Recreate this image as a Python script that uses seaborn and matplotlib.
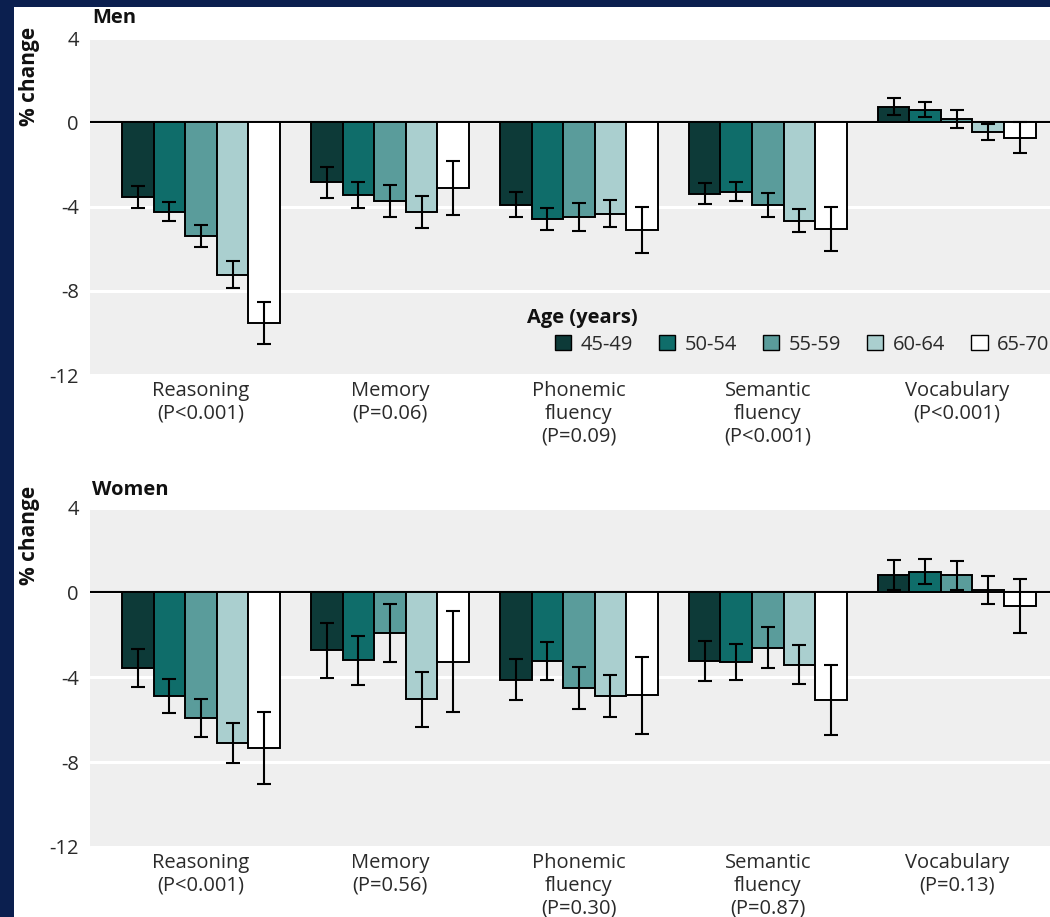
import matplotlib
matplotlib.use("Agg")
import matplotlib.pyplot as plt
from matplotlib.patches import Patch, Rectangle
import seaborn as sns
import pandas as pd

# ---- data -------------------------------------------------------------
domains = ["Reasoning", "Memory", "Phonemic fluency", "Semantic fluency", "Vocabulary"]
age_groups = ["45-49", "50-54", "55-59", "60-64", "65-70"]

men_labels = ["Reasoning\n(P<0.001)", "Memory\n(P=0.06)", "Phonemic\nfluency\n(P=0.09)",
              "Semantic\nfluency\n(P<0.001)", "Vocabulary\n(P<0.001)"]
women_labels = ["Reasoning\n(P<0.001)", "Memory\n(P=0.56)", "Phonemic\nfluency\n(P=0.30)",
                "Semantic\nfluency\n(P=0.87)", "Vocabulary\n(P=0.13)"]

# % change over 10 years, one list per age group (order follows `domains`)
men_45_49 = [-3.55, -2.85, -3.91, -3.39, 0.73]
men_50_54 = [-4.24, -3.44, -4.60, -3.29, 0.59]
men_55_59 = [-5.38, -3.74, -4.49, -3.93, 0.15]
men_60_64 = [-7.23, -4.26, -4.34, -4.67, -0.47]
men_65_70 = [-9.53, -3.14, -5.11, -5.06, -0.73]

men_ci_45_49 = [0.50, 0.74, 0.61, 0.50, 0.40]
men_ci_50_54 = [0.45, 0.62, 0.52, 0.47, 0.35]
men_ci_55_59 = [0.52, 0.78, 0.65, 0.59, 0.44]
men_ci_60_64 = [0.62, 0.76, 0.63, 0.55, 0.37]
men_ci_65_70 = [1.00, 1.28, 1.10, 1.03, 0.72]

women_45_49 = [-3.56, -2.72, -4.11, -3.24, 0.82]
women_50_54 = [-4.88, -3.21, -3.24, -3.27, 0.98]
women_55_59 = [-5.92, -1.92, -4.50, -2.61, 0.80]
women_60_64 = [-7.10, -5.03, -4.89, -3.40, 0.11]
women_65_70 = [-7.33, -3.26, -4.86, -5.05, -0.64]

women_ci_45_49 = [0.90, 1.30, 0.97, 0.93, 0.71]
women_ci_50_54 = [0.80, 1.17, 0.88, 0.86, 0.59]
women_ci_55_59 = [0.89, 1.35, 0.99, 0.96, 0.69]
women_ci_60_64 = [0.93, 1.30, 0.99, 0.90, 0.68]
women_ci_65_70 = [1.68, 2.37, 1.81, 1.65, 1.27]

y_ticks = [4, 0, -4, -8, -12]
y_tick_labels = ["4", "0", "-4", "-8", "-12"]

palette = ["#0d3a38", "#0f6d6a", "#5a9c9b", "#aacfcf", "#ffffff"]


def long_table(series, cis):
    rows = []
    for age, vals, errs in zip(age_groups, series, cis):
        for dom, v, e in zip(domains, vals, errs):
            rows.append({"domain": dom, "age": age, "change": v, "ci": e})
    return pd.DataFrame(rows)


men_df = long_table([men_45_49, men_50_54, men_55_59, men_60_64, men_65_70],
                    [men_ci_45_49, men_ci_50_54, men_ci_55_59, men_ci_60_64, men_ci_65_70])
women_df = long_table([women_45_49, women_50_54, women_55_59, women_60_64, women_65_70],
                      [women_ci_45_49, women_ci_50_54, women_ci_55_59, women_ci_60_64, women_ci_65_70])

# ---- styling ------------------------------------------------------------
sns.set_theme(style="darkgrid", rc={
    "axes.facecolor": "#efefef",
    "grid.color": "white",
    "grid.linewidth": 2.2,
    "figure.facecolor": "white",
})
plt.rcParams["font.family"] = ["Open Sans", "DejaVu Sans"]

W, H = 1050, 917
fig = plt.figure(figsize=(W / 100, H / 100), dpi=100)

# navy frame strips
navy = "#0b1f4f"
fig.add_artist(Rectangle((0, 0), 14 / W, 1, transform=fig.transFigure,
                         facecolor=navy, edgecolor="none", zorder=0))
fig.add_artist(Rectangle((0, 1 - 7 / H), 1, 7 / H, transform=fig.transFigure,
                         facecolor=navy, edgecolor="none", zorder=0))

ax_men = fig.add_axes([90 / W, 1 - 375 / H, 960 / W, 337 / H])
ax_women = fig.add_axes([90 / W, 1 - 847 / H, 960 / W, 339.5 / H])

FS = 14.5
TXT = "#2a2a2a"


def draw_panel(ax, df, labels, title, title_pad, ylabel_y):
    sns.barplot(data=df, x="domain", y="change", hue="age", order=domains,
                hue_order=age_groups, palette=palette, saturation=1, width=0.836,
                edgecolor="black", linewidth=1.4, errorbar=None, legend=False,
                ax=ax, zorder=3)
    # confidence intervals on each bar
    for container, age in zip(ax.containers, age_groups):
        sub = df[df["age"] == age].set_index("domain").loc[domains]
        xs = [p.get_x() + p.get_width() / 2 for p in container.patches]
        ax.errorbar(xs, sub["change"].values, yerr=sub["ci"].values, fmt="none",
                    ecolor="black", elinewidth=1.5, capsize=5, capthick=1.5,
                    zorder=5)
    ax.axhline(0, color="black", linewidth=1.5, zorder=2)
    ax.set_ylim(-12, 4)
    ax.set_xlim(-0.588, 4.494)
    ax.set_yticks(y_ticks, y_tick_labels)
    ax.set_xticks(range(len(domains)), labels, linespacing=1.18)
    ax.grid(axis="x", visible=False)
    ax.tick_params(axis="y", length=0, pad=8, labelsize=FS, labelcolor=TXT)
    ax.tick_params(axis="x", direction="in", length=5, width=1.5, color="white",
                   pad=4.5, labelsize=FS, labelcolor=TXT)
    ax.set_xlabel("")
    ax.set_ylabel("% change", fontsize=15, fontweight="bold", color="#111111")
    ax.yaxis.set_label_coords(-0.052, ylabel_y)
    ax.set_title(title, loc="left", fontsize=14.5, fontweight="bold",
                 color="#111111", pad=title_pad, x=0.002)
    for s in ax.spines.values():
        s.set_visible(False)


draw_panel(ax_men, men_df, men_labels, "Men", 11, 0.887)
draw_panel(ax_women, women_df, women_labels, "Women", 9, 0.917)

# legend: heading as its own text, swatches in a single row beneath it
ax_men.text(0.455, 0.168, "Age (years)", transform=ax_men.transAxes,
            fontsize=FS, fontweight="bold", color="#111111", ha="left", va="center")
handles = [Patch(facecolor=c, edgecolor="black", linewidth=1.0) for c in palette]
leg = ax_men.legend(handles, age_groups, ncol=5,
                    loc="upper right", bbox_to_anchor=(0.999, 0.12),
                    frameon=False, borderpad=0, fontsize=FS,
                    handlelength=0.8, handleheight=0.8, handletextpad=0.45,
                    columnspacing=1.32, borderaxespad=0)
for t in leg.get_texts():
    t.set_color(TXT)

fig.savefig("out.png", dpi=100)
